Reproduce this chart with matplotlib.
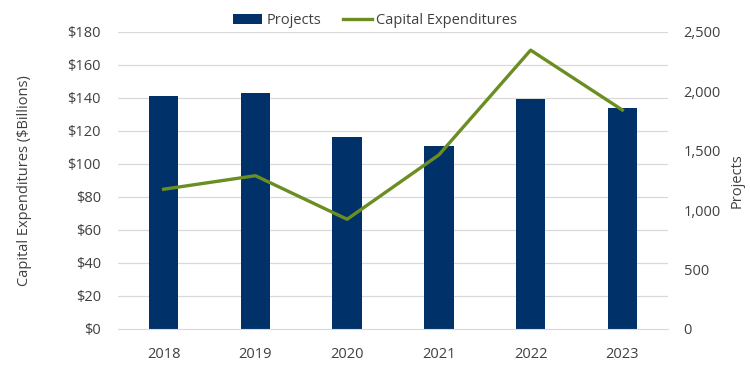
import matplotlib
matplotlib.use("Agg")
import matplotlib.pyplot as plt
from matplotlib.ticker import FuncFormatter

# data
years    = ["2018", "2019", "2020", "2021", "2022", "2023"]
projects = [1964, 1984, 1614, 1543, 1933, 1863]          # right axis (bars)
capex    = [84.7, 92.9, 66.5, 105.5, 169.0, 132.7]       # left axis ($B, line)

NAVY  = "#003169"
OLIVE = "#6b8e23"
GRID  = "#d9d9d9"
TEXT  = "#404040"

plt.rcParams.update({
    "font.family": ["Open Sans", "DejaVu Sans"],
    "text.color": TEXT,
    "xtick.color": TEXT,
    "ytick.color": TEXT,
    "axes.labelcolor": TEXT,
})

fig = plt.figure(figsize=(7.5, 3.75), dpi=100)
ax = fig.add_axes([0.157, 0.1227, 0.734, 0.792])
ax2 = ax.twinx()

x = list(range(len(years)))

# bars on the right (Projects) axis, drawn beneath the line
ax2.bar(x, projects, width=0.32, color=NAVY, zorder=2, label="Projects")
ax2.set_ylim(0, 2500)
ax2.set_yticks(range(0, 2501, 500))
ax2.yaxis.set_major_formatter(FuncFormatter(lambda v, p: f"{int(v):,}"))
ax2.set_ylabel("Projects", fontsize=10.5)
ax2.yaxis.set_label_coords(1.111, 0.5)

# line on the left axis; put left axis on top
ln, = ax.plot(x, capex, color=OLIVE, linewidth=2.4, zorder=3,
              label="Capital Expenditures")
ax.set_zorder(ax2.get_zorder() + 1)
ax.patch.set_visible(False)
ax.set_ylim(0, 180)
ax.set_yticks(range(0, 181, 20))
ax.yaxis.set_major_formatter(FuncFormatter(lambda v, p: f"${int(v)}"))
ax.set_ylabel("Capital Expenditures ($Billions)", fontsize=10.5)
ax.yaxis.set_label_coords(-0.155, 0.5)
ax.set_xlim(-0.5, len(years) - 0.5)
ax.set_xticks(x)
ax.set_xticklabels(years)

# gridlines follow the left axis ticks; draw them on the bar axis so bars cover them
for v in range(20, 181, 20):
    ax2.axhline(v / 180 * 2500, color=GRID, linewidth=0.9, zorder=1)

for a in (ax, ax2):
    for s in ("top", "right", "left"):
        a.spines[s].set_visible(False)
    a.tick_params(length=0, labelsize=10.5)
ax.spines["bottom"].set_color(GRID)
ax2.spines["bottom"].set_visible(False)
ax.tick_params(axis="x", pad=13)
ax.tick_params(axis="y", pad=12)
ax2.tick_params(axis="y", pad=11)

handles = [ax2.containers[0], ln]
fig.legend(handles, ["Projects", "Capital Expenditures"], loc="center",
           bbox_to_anchor=(0.5, 0.945), ncol=2, frameon=False, fontsize=10.5,
           handlelength=2.0, handletextpad=0.3, columnspacing=1.5)

fig.savefig("out.png", dpi=100, facecolor="white")
